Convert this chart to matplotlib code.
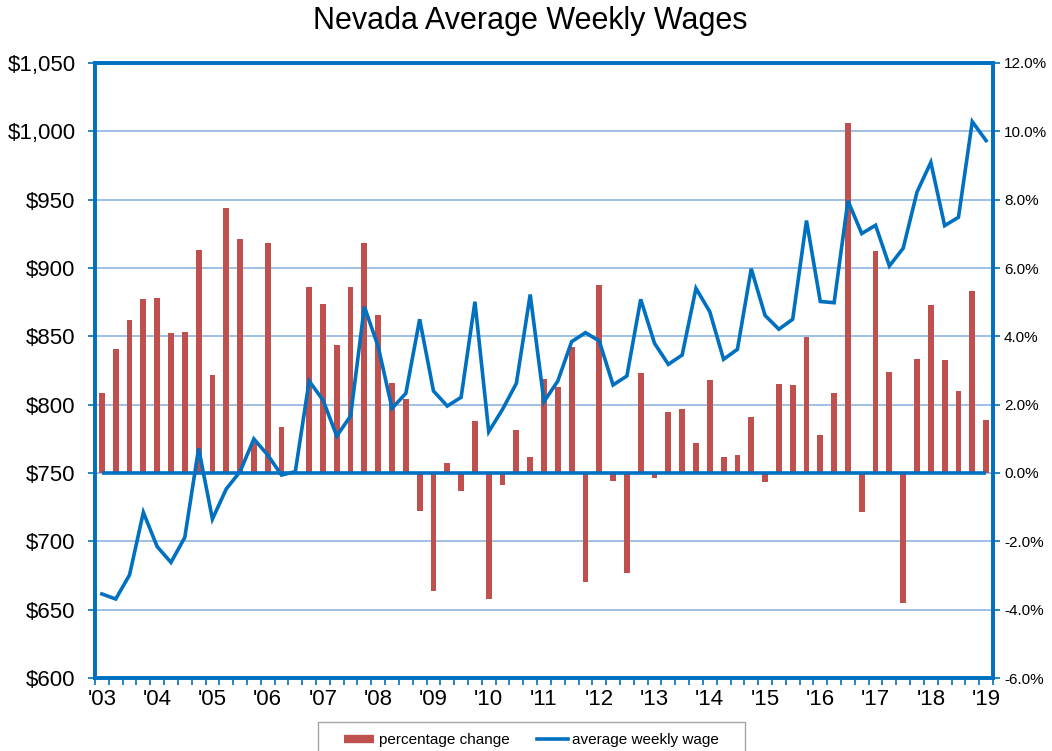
import matplotlib
matplotlib.use("Agg")
import matplotlib.pyplot as plt
from matplotlib.lines import Line2D
from matplotlib.patches import Rectangle
from matplotlib.ticker import FixedLocator, FuncFormatter
import numpy as np

plt.rcParams['font.family'] = ['Liberation Sans', 'DejaVu Sans']

title = "Nevada Average Weekly Wages"
year_labels = ["'03", "'04", "'05", "'06", "'07", "'08", "'09", "'10", "'11",
               "'12", "'13", "'14", "'15", "'16", "'17", "'18", "'19"]

pct_change = [2.33, 3.63, 4.48, 5.09, 5.13, 4.11, 4.14, 6.53, 2.88, 7.76, 6.85, 0.88, 6.73, 1.36, 0.05, 5.43,
              4.94, 3.74, 5.43, 6.73, 4.62, 2.62, 2.17, -1.10, -3.45, 0.28, -0.53, 1.51, -3.69, -0.34, 1.27, 0.48,
              2.74, 2.53, 3.70, -3.18, 5.50, -0.23, -2.94, 2.92, -0.16, 1.78, 1.86, 0.87, 2.72, 0.46, 0.54, 1.63,
              -0.25, 2.60, 2.58, 3.97, 1.11, 2.33, 10.25, -1.14, 6.49, 2.97, -3.80, 3.35, 4.93, 3.32, 2.40, 5.33, 1.55]

avg_wage = [661.5, 657.8, 675.4, 721.2, 696.1, 684.6, 702.9, 768.1, 716.3, 738.3, 751.0, 774.9, 763.2, 748.5, 751.0, 817.3,
            803.4, 777.1, 791.7, 871.7, 842.4, 797.3, 808.3, 862.5, 810.0, 799.0, 805.4, 875.3, 780.2, 796.6, 815.6, 880.6,
            802.2, 817.3, 846.1, 852.7, 846.6, 814.4, 821.0, 877.1, 844.9, 829.5, 836.3, 885.1, 868.0, 833.2, 840.5, 899.5,
            865.3, 855.2, 862.5, 934.7, 875.5, 874.6, 949.2, 925.2, 931.3, 901.5, 914.5, 955.6, 977.3, 931.0, 937.1, 1007.1, 993.2]

bar_color = '#C0504D'
line_color = '#0070C0'
grid_color = '#8DB4E2'

n = len(avg_wage)
x = np.arange(n)

fig = plt.figure(figsize=(10.52, 7.51), dpi=100)
fig.patch.set_facecolor('white')
ax = fig.add_axes([95/1052, 1-678/751, (993-95)/1052, (678-63)/751])
ax2 = ax.twinx()

# right axis: bars
ax2.set_ylim(-6, 12)
ax2.set_yticks(np.arange(-6, 12.01, 2))
ax2.yaxis.set_major_formatter(FuncFormatter(lambda v, p: f"{v:.1f}%"))
ax2.grid(True, axis='y', color=grid_color, lw=1.2, zorder=0)
ax2.bar(x, pct_change, width=0.42, color=bar_color, zorder=2)
ax2.hlines(0, x[0], x[-1], color=line_color, lw=2.6, zorder=3)
ax2.tick_params(axis='y', labelsize=11, direction='out', length=5, width=1.2,
                color=line_color, pad=3)

# left axis: line
ax.set_zorder(ax2.get_zorder() + 1)
ax.patch.set_visible(False)
ax.set_ylim(600, 1050)
ax.set_yticks(np.arange(600, 1050.1, 50))
ax.yaxis.set_major_formatter(FuncFormatter(lambda v, p: f"${v:,.0f}"))
ax.plot(x, avg_wage, color=line_color, lw=2.6, zorder=4, solid_joinstyle='miter')
ax.tick_params(axis='y', labelsize=16, direction='out', length=5, width=1.2,
               color=line_color, pad=9)

ax.set_xlim(-0.5, n - 0.5)
ax.set_xticks(x[::4])
ax.set_xticklabels(year_labels)
ax.xaxis.set_minor_locator(FixedLocator(np.arange(-0.5, n, 1.0)))
ax.tick_params(axis='x', which='major', length=0, labelsize=16, pad=8)
ax.tick_params(axis='x', which='minor', length=5, width=1.2, color=line_color, direction='out')

for a in (ax, ax2):
    for s in a.spines.values():
        s.set_color(line_color)
        s.set_linewidth(2.6)

fig.text(530.5/1052, 1-21/751, title, ha='center', va='center', fontsize=22)

# legend frame
fig.patches.append(Rectangle((318/1052, -0.05), (745-318)/1052, 0.05 + 1-722/751,
                             transform=fig.transFigure, facecolor='white',
                             edgecolor='#A6A6A6', lw=1.0, zorder=1))
handles = [Line2D([], [], color=bar_color, lw=6, solid_capstyle='butt'),
           Line2D([], [], color=line_color, lw=2.6)]
leg = fig.legend(handles, ["percentage change", "average weekly wage"],
                 loc='center', bbox_to_anchor=(531.5/1052, 1-740/751),
                 ncol=2, fontsize=11, frameon=False,
                 handlelength=2.0, handletextpad=0.3,
                 columnspacing=1.8, borderpad=0.2)
leg.set_zorder(2)

fig.savefig("out.png", dpi=100)
